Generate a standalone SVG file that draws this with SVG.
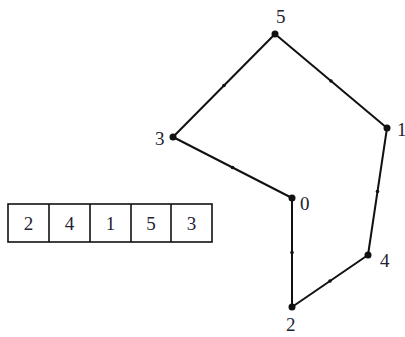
<svg xmlns="http://www.w3.org/2000/svg" width="405" height="337" viewBox="0 0 405 337">
<style>
.e{stroke:#111;stroke-width:2;fill:none}
.d{fill:#111}
.t{font-family:'Liberation Serif','Times New Roman','DejaVu Serif',serif;font-size:19px;fill:#223}
.c{stroke:#111;stroke-width:1.6;fill:#fff}
</style>
<rect width="405" height="337" fill="#fff"/>
<g id="connectors">
<line class="e" x1="275" y1="34" x2="173" y2="137"/>
<line class="e" x1="275" y1="34" x2="387" y2="128"/>
<line class="e" x1="387" y1="128" x2="368" y2="255"/>
<line class="e" x1="368" y1="255" x2="292" y2="307"/>
<line class="e" x1="292" y1="307" x2="292" y2="198"/>
<line class="e" x1="292" y1="198" x2="173" y2="137"/>
<circle class="d" cx="224" cy="85.5" r="1.8"/>
<circle class="d" cx="331" cy="81" r="1.8"/>
<circle class="d" cx="377.5" cy="191.5" r="1.8"/>
<circle class="d" cx="330" cy="281" r="1.8"/>
<circle class="d" cx="292" cy="252.5" r="1.8"/>
<circle class="d" cx="232.5" cy="167.5" r="1.8"/>
</g>
<g id="n5"><circle class="d" cx="275" cy="34" r="3.5"/><text class="t" x="276" y="23">5</text></g>
<g id="n1"><circle class="d" cx="387" cy="128" r="3.5"/><text class="t" x="397" y="136">1</text></g>
<g id="n3"><circle class="d" cx="173" cy="137" r="3.5"/><text class="t" x="155" y="145">3</text></g>
<g id="n0"><circle class="d" cx="292" cy="198" r="3.5"/><text class="t" x="300" y="210">0</text></g>
<g id="n4"><circle class="d" cx="368" cy="255" r="3.5"/><text class="t" x="380" y="267">4</text></g>
<g id="n2"><circle class="d" cx="292" cy="307" r="3.5"/><text class="t" x="286" y="331">2</text></g>
<g id="array">
<rect class="c" x="8" y="204" width="204" height="38"/>
<line class="e" x1="49" y1="204" x2="49" y2="242" style="stroke-width:1.6"/>
<line class="e" x1="90" y1="204" x2="90" y2="242" style="stroke-width:1.6"/>
<line class="e" x1="131" y1="204" x2="131" y2="242" style="stroke-width:1.6"/>
<line class="e" x1="171" y1="204" x2="171" y2="242" style="stroke-width:1.6"/>
<text class="t" x="28.5" y="230" text-anchor="middle">2</text>
<text class="t" x="69.5" y="230" text-anchor="middle">4</text>
<text class="t" x="110.5" y="230" text-anchor="middle">1</text>
<text class="t" x="151" y="230" text-anchor="middle">5</text>
<text class="t" x="191.5" y="230" text-anchor="middle">3</text>
</g>
</svg>
